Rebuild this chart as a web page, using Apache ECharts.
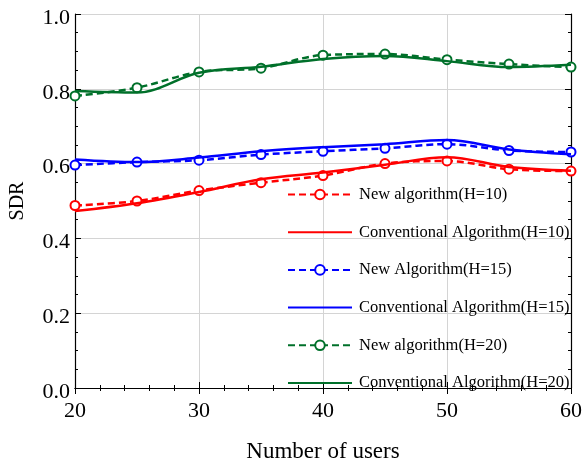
<!DOCTYPE html>
<html>
<head>
<meta charset="utf-8">
<script src="https://cdn.jsdelivr.net/npm/echarts@6/dist/echarts.min.js"></script>
<style>html,body{margin:0;padding:0;background:#fff;}#c{width:585px;height:468px;}</style>
</head>
<body>
<div id="c"></div>
<script>
const users = [20, 25, 30, 35, 40, 45, 50, 55, 60];
const newH10  = [0.488, 0.500, 0.528, 0.549, 0.568, 0.600, 0.607, 0.585, 0.580];
const convH10 = [0.473, 0.494, 0.524, 0.558, 0.576, 0.597, 0.617, 0.591, 0.581];
const newH15  = [0.596, 0.604, 0.609, 0.624, 0.633, 0.641, 0.652, 0.635, 0.631];
const convH15 = [0.611, 0.604, 0.616, 0.633, 0.644, 0.652, 0.663, 0.638, 0.625];
const newH20  = [0.781, 0.803, 0.845, 0.855, 0.890, 0.893, 0.878, 0.866, 0.858];
const convH20 = [0.794, 0.790, 0.843, 0.859, 0.880, 0.888, 0.874, 0.858, 0.864];
const names = ['New algorithm(H=10)', 'Conventional Algorithm(H=10)', 'New Algorithm(H=15)',
               'Conventional Algorithm(H=15)', 'New algorithm(H=20)', 'Conventional Algorithm(H=20)'];

const RED = '#ff0000', BLUE = '#0000ff', GREEN = '#00702a';
const FONT = '"Liberation Serif", "Times New Roman", serif';
const zip = arr => users.map((u, i) => [u, arr[i]]);
const SMOOTH = 0.35;

function dashed(name, arr, color) {
  return {
    name, type: 'line', data: zip(arr), smooth: SMOOTH,
    symbol: 'emptyCircle', symbolSize: 9, showSymbol: true,
    lineStyle: { color, width: 2.5, type: [7, 4] },
    itemStyle: { color, borderWidth: 1 },
    emphasis: { disabled: true }, z: 2
  };
}
function solid(name, arr, color) {
  return {
    name, type: 'line', data: zip(arr), smooth: SMOOTH,
    symbol: 'none', showSymbol: false,
    lineStyle: { color, width: 2.5, type: 'solid' },
    itemStyle: { color },
    emphasis: { disabled: true }, z: 3
  };
}

const chart = echarts.init(document.getElementById('c'), null, { renderer: 'canvas' });
const axisLine = { show: true, lineStyle: { color: '#000', width: 1.2 } };
chart.setOption({
  animation: false,
  backgroundColor: '#fff',
  grid: { left: 75, right: 14, top: 14, bottom: 72, containLabel: false },
  legend: {
    orient: 'vertical', left: 282, top: 181,
    itemWidth: 64, itemHeight: 12, itemGap: 20.7,
    textStyle: { fontFamily: FONT, fontSize: 16.5, color: '#000', lineHeight: 16, padding: [0, 0, 0, 2] },
    data: names.map((n, i) => i % 2 === 1 ? { name: n, itemStyle: { opacity: 0 } } : { name: n })
  },
  xAxis: [{
    type: 'value', min: 20, max: 60, interval: 10,
    name: 'Number of users', nameLocation: 'middle', nameGap: 52,
    nameTextStyle: { fontFamily: FONT, fontSize: 23, color: '#000' },
    axisLine, axisTick: { show: true, inside: true, length: 6, lineStyle: { color: '#000' } },
    minorTick: { show: true, splitNumber: 5, length: 3, lineStyle: { color: '#000' } },
    axisLabel: { fontFamily: FONT, fontSize: 22, color: '#000', margin: 12 },
    splitLine: { show: true, lineStyle: { color: '#d4d4d4', width: 1 } }
  }, {
    type: 'value', min: 20, max: 60, interval: 10, position: 'top',
    axisLine, axisTick: { show: true, inside: true, length: 6, lineStyle: { color: '#000' } },
    minorTick: { show: true, splitNumber: 5, length: 3, lineStyle: { color: '#000' } },
    axisLabel: { show: false }, splitLine: { show: false }
  }],
  yAxis: [{
    type: 'value', min: 0, max: 1, interval: 0.2,
    name: 'SDR', nameLocation: 'middle', nameGap: 47,
    nameTextStyle: { fontFamily: FONT, fontSize: 20, color: '#000' },
    axisLine, axisTick: { show: true, inside: true, length: 6, lineStyle: { color: '#000' } },
    minorTick: { show: true, splitNumber: 4, length: 3, lineStyle: { color: '#000' } },
    axisLabel: { fontFamily: FONT, fontSize: 22, color: '#000', margin: 5, verticalAlign: 'top', lineHeight: 8, formatter: v => v.toFixed(1) },
    splitLine: { show: true, lineStyle: { color: '#d4d4d4', width: 1 } }
  }, {
    type: 'value', min: 0, max: 1, interval: 0.2, position: 'right',
    axisLine, axisTick: { show: true, inside: true, length: 6, lineStyle: { color: '#000' } },
    minorTick: { show: true, splitNumber: 4, length: 3, lineStyle: { color: '#000' } },
    axisLabel: { show: false }, splitLine: { show: false }
  }],
  series: [
    dashed(names[0], newH10, RED),
    solid(names[1], convH10, RED),
    dashed(names[2], newH15, BLUE),
    solid(names[3], convH15, BLUE),
    dashed(names[4], newH20, GREEN),
    solid(names[5], convH20, GREEN)
  ]
});
</script>
</body>
</html>
